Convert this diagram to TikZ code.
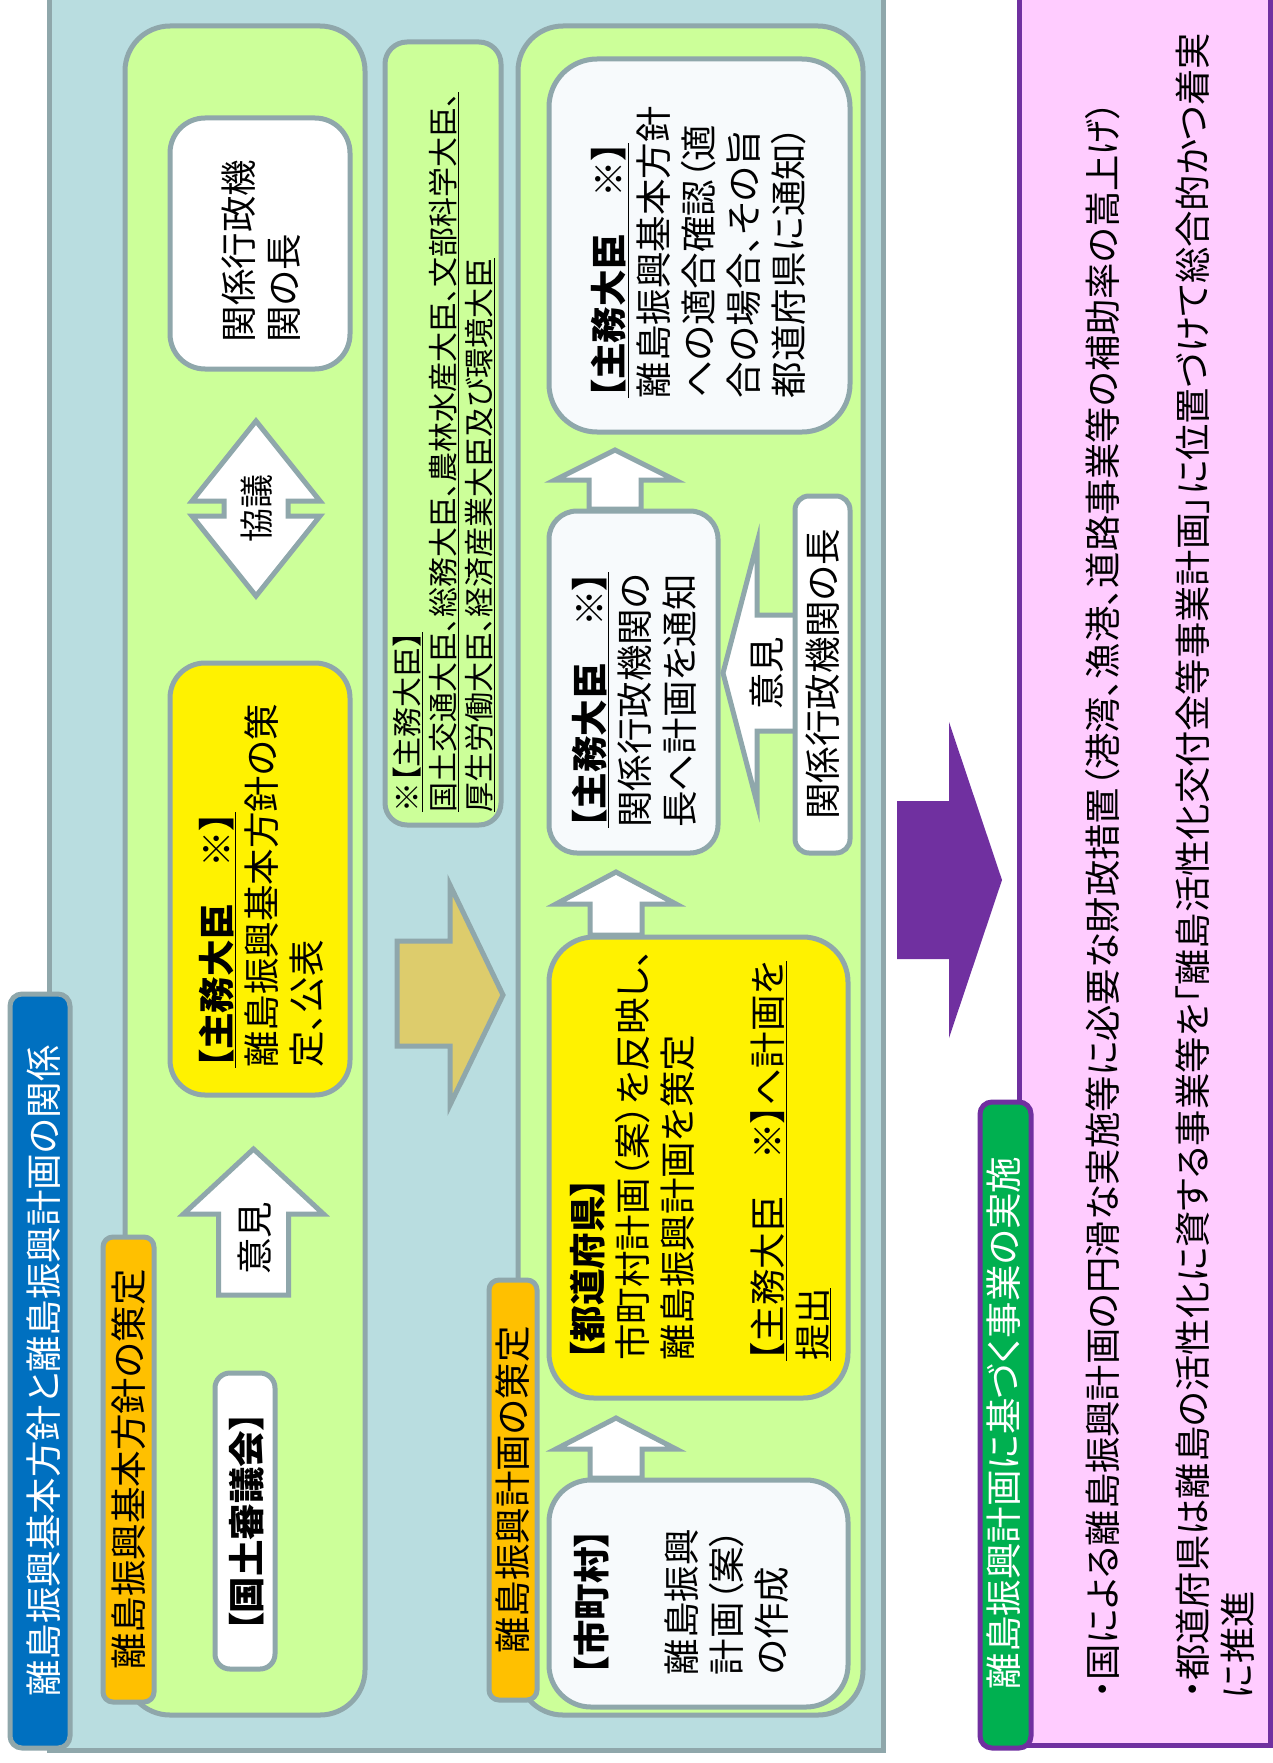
\documentclass[tikz,border=0pt]{standalone}
\usepackage{fontspec}
\setmainfont[RawFeature={+palt}]{Noto Sans CJK JP}
\definecolor{panel}{RGB}{185,221,224}
\definecolor{edge}{RGB}{143,167,171}
\definecolor{lgreen}{RGB}{204,255,153}
\definecolor{orangelab}{RGB}{255,192,0}
\definecolor{bluetab}{RGB}{0,112,192}
\definecolor{tanarr}{RGB}{221,204,108}
\definecolor{purp}{RGB}{112,48,160}
\definecolor{pinkbg}{RGB}{255,204,255}
\definecolor{glab}{RGB}{0,176,80}
\definecolor{offwhite}{RGB}{247,250,252}
\newcommand{\fsz}[2]{\fontsize{#1}{#2}\selectfont}
\newcommand{\bx}[6]{\node[#2, minimum width={(#5-#3)*1pt}, minimum height={(#6-#4)*1pt}, inner sep=0pt] (#1) at ({(#3+#5)/2},{(#4+#6)/2}) {};}
\newcommand{\uparr}[6]{\draw[blockarrow] (#1,#2) -- ({#1+#5},#3) -- ({#1+#6},#3) -- ({#1+#6},#4) -- ({#1-#6},#4) -- ({#1-#6},#3) -- ({#1-#5},#3) -- cycle;}
\tikzset{
  ebox/.style={draw=edge, line width=5pt},
  grp/.style={ebox, fill=lgreen, rounded corners=45pt},
  blockarrow/.style={draw=edge, line width=5pt, fill=white},
  txt/.style={rotate=90, inner sep=0pt, align=left, font=\fsz{36.5}{45}},
}
\begin{document}
\begin{tikzpicture}[x=1pt,y=-1pt]
\useasboundingbox (0,0) rectangle (1273,1763);
\fill[white] (0,0) rectangle (1273,1763);
% left panel
\bx{panel}{ebox, fill=panel}{49}{-30}{883}{1750}
\bx{tab}{ebox, fill=bluetab, rounded corners=12pt}{10}{994}{70}{1748}
\node[txt, text=white] (ttitle) at (tab.center) [yshift=-4pt] {離島振興基本方針と離島振興計画の関係};
% group 1
\bx{g1}{grp}{125}{26}{365}{1715}
\bx{lab1}{ebox, fill=orangelab, rounded corners=10pt}{103}{1237}{154}{1702}
\node[txt] (tlab1) at (lab1.center) {離島振興基本方針の策定};
\bx{kokudo}{ebox, fill=white, rounded corners=15pt}{215}{1373}{275}{1669}
\node[txt] (tkokudo) at (247,1522) {\bfseries 【国土審議会】};
\uparr{253.5}{1149}{1214}{1295}{70}{35}
\node[txt] (tiken1) at (255,1238) {意見};
\bx{shumu1}{ebox, fill=yellow, rounded corners=35pt}{170}{663}{350}{1095}
\node[txt] (tshumu1) at (261,886) {\bfseries\underline{【主務大臣　※】}\\離島振興基本方針の策\\定、公表};
\draw[blockarrow] (256,421) -- (320,501) -- (288,501) -- (288,516) -- (320,516) -- (256,596) -- (192,516) -- (224,516) -- (224,501) -- (192,501) -- cycle;
\node[txt, font=\fsz{34}{40}] (tkyogi) at (257,508) {協議};
\bx{kankei1}{ebox, fill=white, rounded corners=35pt}{170}{118}{350}{369}
\node[txt] (tkankei1) at (261.5,251) {関係行政機\\関の長};
% note
\bx{note}{ebox, fill=lgreen, rounded corners=22pt}{385}{42}{501}{825}
\node[txt, font=\fsz{30}{36}] (tnote) at (444,452) {\underline{※【主務大臣】}\\\underline{国土交通大臣、総務大臣、農林水産大臣、文部科学大臣、}\\\underline{厚生労働大臣、経済産業大臣及び環境大臣}};
% tan arrow
\draw[draw=edge, line width=5pt, fill=tanarr] (397,941) -- (450,941) -- (450,885) -- (503,995) -- (450,1105) -- (450,1046) -- (397,1046) -- cycle;
% group 2
\bx{g2}{grp}{518}{26}{863}{1715}
\bx{lab2}{ebox, fill=orangelab, rounded corners=10pt}{489}{1280}{537}{1700}
\node[txt] (tlab2) at (lab2.center) {離島振興計画の策定};
\uparr{616}{1418}{1449}{1478}{60}{26}
\uparr{616}{872}{904}{935}{60}{26}
\uparr{615}{450}{480}{509}{60}{26}
\draw[blockarrow] (723,673) -- (757,543) -- (757,615) -- (796,615) -- (796,731) -- (757,731) -- (757,803) -- cycle;
\bx{kakunin}{ebox, fill=offwhite, rounded corners=48pt}{549}{59}{850}{432}
\node[txt] (tkakunin) at (699,252) {\bfseries\underline{【主務大臣　※】}\\離島振興基本方針\\への適合確認（適\\合の場合、その旨\\都道府県に通知）};
\bx{tsuchi}{ebox, fill=offwhite, rounded corners=28pt}{549}{511}{718}{853}
\node[txt] (ttsuchi) at (634,700) {\bfseries\underline{【主務大臣　※】}\\関係行政機関の\\長へ計画を通知};
\node[txt] (tiken2) at (767,673) {意見};
\bx{kankei2}{ebox, fill=white, rounded corners=14pt}{795}{496}{850}{853}
\node[txt] (tkankei2) at (kankei2.center) {関係行政機関の長};
\bx{todofuken}{ebox, fill=yellow, rounded corners=45pt}{549}{937}{848}{1398}
\node[txt] (ttodofuken) at (700.5,1155) {{\bfseries 【都道府県】}\\市町村計画（案）を反映し、\\離島振興計画を策定\\[45pt]\underline{【主務大臣　※】へ計画を}\\\underline{提出}};
\bx{shichoson}{ebox, fill=offwhite, rounded corners=42pt}{549}{1480}{848}{1707}
\node[txt] (tshichoson) at (681,1602) {{\bfseries 【市町村】}\\[45pt]離島振興\\計画（案）\\の作成};
% purple arrow
\fill[purp] (897,801) -- (949,801) -- (949,722) -- (1002,880) -- (949,1038) -- (949,959) -- (897,959) -- cycle;
% pink box
\bx{pink}{draw=purp, line width=5pt, fill=pinkbg}{1019}{-30}{1270}{1745}
\bx{glabel}{draw=purp, line width=5pt, fill=glab, rounded corners=12pt}{980}{1102}{1031}{1748}
\node[txt, text=white] (tglabel) at (1004,1423) {離島振興計画に基づく事業の実施};
\node[txt, font=\fsz{36.3}{45}] (tpink) at (1170,866) {・国による離島振興計画の円滑な実施等に必要な財政措置（港湾、漁港、道路事業等の補助率の嵩上げ）\\[45pt]・都道府県は離島の活性化に資する事業等を「離島活性化交付金等事業計画」に位置づけて総合的かつ着実\\に推進};
\end{tikzpicture}
\end{document}
